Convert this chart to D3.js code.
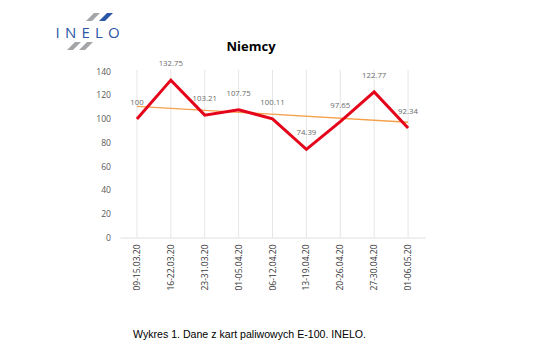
<!DOCTYPE html>
<html>
<head>
<meta charset="utf-8">
<script src="https://cdn.jsdelivr.net/npm/d3@7"></script>
<style>
  body { margin: 0; background: #fff; }
  svg { display: block; }
</style>
</head>
<body>
<svg id="drawing_region"></svg>
<script>
// data
const weeks = ['09-15.03.20', '16-22.03.20', '23-31.03.20', '01-05.04.20', '06-12.04.20',
               '13-19.04.20', '20-26.04.20', '27-30.04.20', '01-06.05.20']
const values = [100, 132.75, 103.21, 107.75, 100.11, 74.39, 97.65, 122.77, 92.34]
const valueLabels = ['100', '132.75', '103.21', '107.75', '100.11', '74.39', '97.65', '122.77', '92.34']
const trendEnds = [110.6, 97.2]   // linear trendline, first and last week
const yTicks = [0, 20, 40, 60, 80, 100, 120, 140]

const W = 535, H = 353

const svg = d3.select('#drawing_region')
    .attr('width', W)
    .attr('height', H)

// logo
const logo = svg.append('g')
const stripe = (x, yb, h, w, slant) => `M${x},${yb} L${x + w},${yb} L${x + w + slant},${yb - h} L${x + slant},${yb - h} Z`
logo.append('path').attr('d', stripe(86, 21, 8, 6, 8)).attr('fill', '#a3a5a8')
logo.append('path').attr('d', stripe(99, 21, 8, 6, 8)).attr('fill', '#2a56a6')
logo.append('path').attr('d', stripe(67, 50, 8, 6, 8)).attr('fill', '#a3a5a8')
logo.append('path').attr('d', stripe(79, 50, 8, 6, 8)).attr('fill', '#a3a5a8')
logo.append('text')
    .attr('x', 55.5)
    .attr('y', 38)
    .attr('font-family', 'Open Sans')
    .attr('font-size', 15)
    .attr('letter-spacing', 5.2)
    .attr('fill', '#2a56a6')
    .text('INELO')

// title
svg.append('text')
    .attr('x', 251)
    .attr('y', 51)
    .attr('text-anchor', 'middle')
    .attr('font-family', 'Open Sans')
    .attr('font-weight', 'bold')
    .attr('font-size', 13)
    .attr('fill', '#000')
    .text('Niemcy')

const xscale = d3.scaleBand().domain(weeks).range([120, 425])
const yscale = d3.scaleLinear().domain([0, 140]).range([237.5, 71.5])
const cx = d => xscale(d) + xscale.bandwidth() / 2

// vertical gridlines
svg.append('g').selectAll('line').data(weeks).enter()
    .append('line')
    .attr('x1', cx).attr('x2', cx)
    .attr('y1', yscale(140) - 1.5).attr('y2', yscale(0))
    .attr('stroke', '#e6e6e6')
    .attr('stroke-width', 1)

// y axis
const yaxis = d3.axisLeft(yscale).tickValues(yTicks).tickSize(0).tickPadding(0)
const yg = svg.append('g')
    .attr('transform', 'translate(111,0)')
    .call(yaxis)
yg.select('.domain').remove()
yg.selectAll('text')
    .attr('font-family', 'Open Sans')
    .attr('font-size', 8.6)
    .attr('fill', '#595959')

// x axis
const xaxis = d3.axisBottom(xscale).tickSize(0).tickSizeOuter(0)
const xg = svg.append('g')
    .attr('transform', `translate(0,${yscale(0)})`)
    .call(xaxis)
xg.select('.domain').attr('stroke', '#e0e0e0').attr('stroke-width', 1.2)
xg.selectAll('text')
    .attr('font-family', 'Open Sans')
    .attr('font-size', 8.5)
    .attr('fill', '#333')
    .attr('text-anchor', 'end')
    .attr('dy', null)
    .attr('y', 0)
    .attr('transform', 'translate(3,7) rotate(-90)')

// trendline
svg.append('line')
    .attr('x1', cx(weeks[0])).attr('y1', yscale(trendEnds[0]))
    .attr('x2', cx(weeks[weeks.length - 1])).attr('y2', yscale(trendEnds[1]))
    .attr('stroke', '#f5a04a')
    .attr('stroke-width', 1.3)

// series line
const line = d3.line()
    .x((d, i) => cx(weeks[i]))
    .y(d => yscale(d))
svg.append('path')
    .attr('d', line(values))
    .attr('fill', 'none')
    .attr('stroke', '#e4051b')
    .attr('stroke-width', 3)
    .attr('stroke-linejoin', 'miter')

// data labels
svg.append('g').selectAll('text').data(values).enter()
    .append('text')
    .attr('x', (d, i) => cx(weeks[i]))
    .attr('y', d => yscale(d) - 14)
    .attr('text-anchor', 'middle')
    .attr('font-family', 'Open Sans')
    .attr('font-size', 7.8)
    .attr('fill', '#6b6b6b')
    .text((d, i) => valueLabels[i])

// caption
svg.append('text')
    .attr('x', 133)
    .attr('y', 338)
    .attr('font-family', 'Liberation Sans')
    .attr('font-size', 10.6)
    .attr('fill', '#000')
    .text('Wykres 1. Dane z kart paliwowych E-100. INELO.')
</script>
</body>
</html>
